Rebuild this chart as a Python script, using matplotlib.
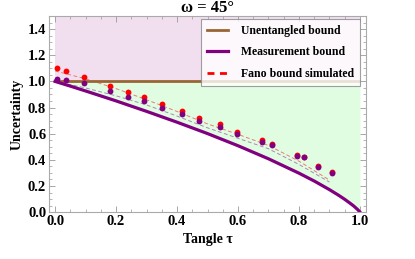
import matplotlib
matplotlib.use("Agg")
import matplotlib.pyplot as plt
from matplotlib.ticker import MultipleLocator, FormatStrFormatter
from matplotlib.lines import Line2D

# ---- data ----
tau_pts = [0.005, 0.036, 0.096, 0.180, 0.240, 0.293, 0.352, 0.416, 0.473,
           0.541, 0.598, 0.678, 0.711, 0.792, 0.817, 0.861, 0.907]
red_pts = [1.099, 1.079, 1.035, 0.966, 0.920, 0.880, 0.824, 0.777, 0.721,
           0.671, 0.610, 0.551, 0.520, 0.440, 0.425, 0.350, 0.305]
purple_pts = [1.018, 1.010, 0.985, 0.928, 0.882, 0.852, 0.793, 0.752, 0.696,
              0.653, 0.597, 0.536, 0.513, 0.429, 0.419, 0.344, 0.301]

tau_meas = [0, 0.05, 0.1, 0.2, 0.3, 0.4, 0.5, 0.6, 0.7, 0.8, 0.85, 0.9,
            0.93, 0.95, 0.97, 0.98, 0.99, 0.995, 1.0]
meas = [1.0, 0.964, 0.927, 0.851, 0.771, 0.688, 0.601, 0.508, 0.408, 0.298,
        0.238, 0.172, 0.129, 0.098, 0.064, 0.046, 0.025, 0.014, 0.0]

tau_dash = [0, 0.1, 0.2, 0.3, 0.4, 0.5, 0.6, 0.7, 0.8, 0.9]
red_dash = [1.08, 1.02, 0.945, 0.86, 0.77, 0.675, 0.595, 0.51, 0.39, 0.245]
purple_dash = [1.0, 0.95, 0.89, 0.82, 0.735, 0.645, 0.565, 0.485, 0.365, 0.23]

unent_tau = [0, 1]
unent = [1, 1]

title = "ω = 45°"
xlabel = "Tangle τ"
ylabel = "Uncertainty"
legend_labels = ["Unentangled bound", "Measurement bound", "Fano bound simulated"]

plt.rcParams['font.family'] = ['Liberation Serif', 'DejaVu Serif']
plt.rcParams['font.weight'] = 'bold'

fig = plt.figure(figsize=(4.15, 2.59), dpi=100)
ax = fig.add_axes([0.118, 0.181, 0.764, 0.757])

brown = '#996633'
purple = '#800080'

# shaded regions
ax.fill_between(unent_tau, [1, 1], [1.5, 1.5], color='#f1dff0', lw=0, zorder=0)
ax.fill_between(tau_meas, meas, [1.0] * len(tau_meas), color='#e1fde1', lw=0, zorder=0)

# dashed simulated lines
ax.plot(tau_dash, red_dash, color='#f07878', lw=0.7, ls=(0, (4, 2.5)), zorder=2)
ax.plot(tau_dash, purple_dash, color='#a888b8', lw=0.7, ls=(0, (4, 2.5)), zorder=2)

# bounds
ax.plot(unent_tau, unent, color=brown, lw=2.0, zorder=3, solid_capstyle='butt')
ax.plot(tau_meas, meas, color=purple, lw=2.3, zorder=3)

# points
ax.plot(tau_pts, red_pts, 'o', color='#ff0000', ms=4.2, mec='none', zorder=4)
ax.plot(tau_pts, purple_pts, 'o', color=purple, ms=4.2, mec='none', zorder=5)

ax.set_xlim(-0.02, 1.02)
ax.set_ylim(0, 1.5)

ax.xaxis.set_major_locator(MultipleLocator(0.2))
ax.xaxis.set_minor_locator(MultipleLocator(0.05))
ax.set_yticks([0, 0.2, 0.4, 0.6, 0.8, 1.0, 1.2, 1.4])
ax.yaxis.set_minor_locator(MultipleLocator(0.05))
ax.xaxis.set_major_formatter(FormatStrFormatter('%.1f'))
ax.yaxis.set_major_formatter(FormatStrFormatter('%.1f'))

ax.tick_params(which='both', direction='in', top=True, right=True, color='#999999')
ax.tick_params(which='major', length=4, width=0.6, labelsize=10.5, pad=2)
ax.tick_params(which='minor', length=2, width=0.5)
for s in ax.spines.values():
    s.set_color('#aaaaaa')
    s.set_linewidth(0.8)
for lab in ax.get_xticklabels() + ax.get_yticklabels():
    lab.set_fontweight('bold')

ax.set_title(title, fontsize=12, fontweight='bold', pad=2)
ax.set_xlabel(xlabel, fontsize=10, fontweight='bold', labelpad=4)
ax.set_ylabel(ylabel, fontsize=10, fontweight='bold', labelpad=3)

handles = [Line2D([], [], color=brown, lw=2.0),
           Line2D([], [], color=purple, lw=2.3),
           Line2D([], [], color='#ff0000', lw=2.0, ls=(0, (2.5, 2)))]
leg = ax.legend(handles, legend_labels, loc='upper right',
                bbox_to_anchor=(0.981, 0.985),
                frameon=True, fancybox=False, edgecolor='#888888',
                borderaxespad=0.0, handlelength=1.8, handletextpad=1.1,
                labelspacing=0.8, borderpad=0.5,
                prop={'weight': 'bold', 'size': 8.5})
leg.get_frame().set_linewidth(0.8)

fig.savefig('out.png', dpi=100)
